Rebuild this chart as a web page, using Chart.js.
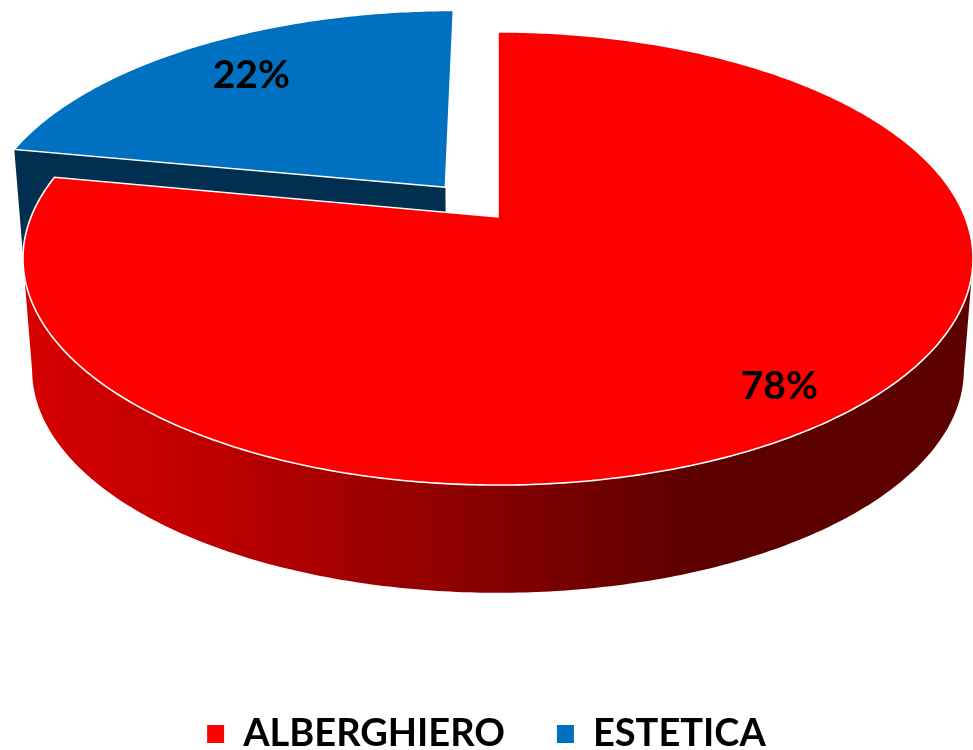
<!DOCTYPE html>
<html>
<head>
<meta charset="utf-8">
<title>Alberghiero / Estetica</title>
<script src="https://cdn.jsdelivr.net/npm/chart.js@4/dist/chart.umd.js"></script>
<style>
  html, body { margin: 0; padding: 0; background: #fff; overflow: hidden; }
  canvas { display: block; }
</style>
</head>
<body>
<canvas id="chart" width="973" height="750"></canvas>
<script>
const categories = ['ALBERGHIERO', 'ESTETICA'];
const values = [78, 22];
const sliceColors = ['#ff0000', '#0070c0'];
const cutFaceColors = ['#5c0000', '#002f50'];

// perspective of the tilted disc: top face and the lower face of the cylinder
const view = { cx: 498, k: 0.183 };
const topFace = { a: 467, b: 219, cy: 217 };
const lowFace = { a: 458, b: 215.5, cy: 329 };
const labelRadius = [0.86, 0.77];
const labelNudge = [[-10, 4], [3, 0]];

function project(face, u, v) {
  const w = 1 + view.k * v;
  return { x: view.cx + face.a * u / w, y: face.cy - face.b * v / w };
}

function discPoint(arc, angle, r) {
  const d = arc.options.offset / arc.outerRadius;
  const mid = (arc.startAngle + arc.endAngle) / 2;
  return {
    u: r * Math.cos(angle) + d * Math.cos(mid),
    v: -r * Math.sin(angle) - d * Math.sin(mid)
  };
}

function rimAngles(arc) {
  const out = [];
  const n = Math.max(2, Math.ceil((arc.endAngle - arc.startAngle) * 90));
  for (let i = 0; i <= n; i++) {
    out.push(arc.startAngle + (arc.endAngle - arc.startAngle) * i / n);
  }
  return out;
}

function drawCutFace(ctx, arc, color) {
  const a = discPoint(arc, arc.startAngle, 0);
  const b = discPoint(arc, arc.startAngle, 1);
  const pts = [project(topFace, a.u, a.v), project(topFace, b.u, b.v), project(lowFace, b.u, b.v), project(lowFace, a.u, a.v)];
  ctx.beginPath();
  pts.forEach((p, i) => i ? ctx.lineTo(p.x, p.y) : ctx.moveTo(p.x, p.y));
  ctx.closePath();
  ctx.fillStyle = color;
  ctx.fill();
}

function drawWall(ctx, arc, paint) {
  // only the part in front of the silhouette points of the cylinder
  const rim = rimAngles(arc).map(a => discPoint(arc, a, 1)).filter(p => p.v <= -view.k);
  ctx.beginPath();
  rim.forEach((p, i) => {
    const s = project(topFace, p.u, p.v);
    i ? ctx.lineTo(s.x, s.y) : ctx.moveTo(s.x, s.y);
  });
  rim.slice().reverse().forEach(p => {
    const s = project(lowFace, p.u, p.v);
    ctx.lineTo(s.x, s.y);
  });
  ctx.closePath();
  ctx.fillStyle = paint;
  ctx.fill();
}

function drawTop(ctx, arc) {
  const c = discPoint(arc, arc.startAngle, 0);
  const apex = project(topFace, c.u, c.v);
  ctx.beginPath();
  ctx.moveTo(apex.x, apex.y);
  rimAngles(arc).forEach(angle => {
    const p = discPoint(arc, angle, 1);
    const s = project(topFace, p.u, p.v);
    ctx.lineTo(s.x, s.y);
  });
  ctx.closePath();
  ctx.fillStyle = arc.options.backgroundColor;
  ctx.fill();
  ctx.strokeStyle = '#ffffff';
  ctx.lineWidth = 1.6;
  ctx.lineJoin = 'miter';
  ctx.stroke();
}

const pie3d = {
  id: 'pie3d',
  afterLayout(chart) {
    // legend sits right on the bottom edge, its big padding is only for the item gap
    const legend = chart.legend;
    legend.top = 734 - legend.options.labels.padding - 19;
    legend.bottom = 750;
  },
  beforeDatasetDraw(chart, args) {
    const ctx = chart.ctx;
    const arcs = args.meta.data;
    const wallPaint = ctx.createLinearGradient(35, 0, 698, 0);
    wallPaint.addColorStop(0, '#d40000');
    wallPaint.addColorStop(0.25, '#c00000');
    wallPaint.addColorStop(1, '#5c0000');

    ctx.save();
    // blue piece sits behind the red one
    for (let i = arcs.length - 1; i >= 0; i--) {
      if (arcs[i].options.offset > 0) drawCutFace(ctx, arcs[i], cutFaceColors[i]);
      else drawWall(ctx, arcs[i], wallPaint);
      drawTop(ctx, arcs[i]);
    }
    const total = values.reduce((s, v) => s + v, 0);
    ctx.fillStyle = '#000000';
    ctx.font = 'bold 39px Lato';
    ctx.textAlign = 'center';
    ctx.textBaseline = 'middle';
    arcs.forEach((arc, i) => {
      const mid = (arc.startAngle + arc.endAngle) / 2;
      const p = discPoint(arc, mid, labelRadius[i]);
      const s = project(topFace, p.u, p.v);
      ctx.fillText(Math.round(values[i] / total * 100) + '%', s.x + labelNudge[i][0], s.y + labelNudge[i][1]);
    });
    ctx.restore();
    return false;
  }
};

new Chart(document.getElementById('chart'), {
  type: 'pie',
  data: {
    labels: categories,
    datasets: [{
      data: values,
      backgroundColor: sliceColors,
      borderWidth: 0,
      offset: [0, 54]
    }]
  },
  options: {
    responsive: false,
    animation: false,
    plugins: {
      tooltip: { enabled: false },
      legend: {
        position: 'bottom',
        labels: {
          boxWidth: 17,
          boxHeight: 18,
          padding: 52,
          color: '#000000',
          font: { family: 'Lato', weight: 'bold', size: 38 }
        }
      }
    }
  },
  plugins: [pie3d]
});
</script>
</body>
</html>
